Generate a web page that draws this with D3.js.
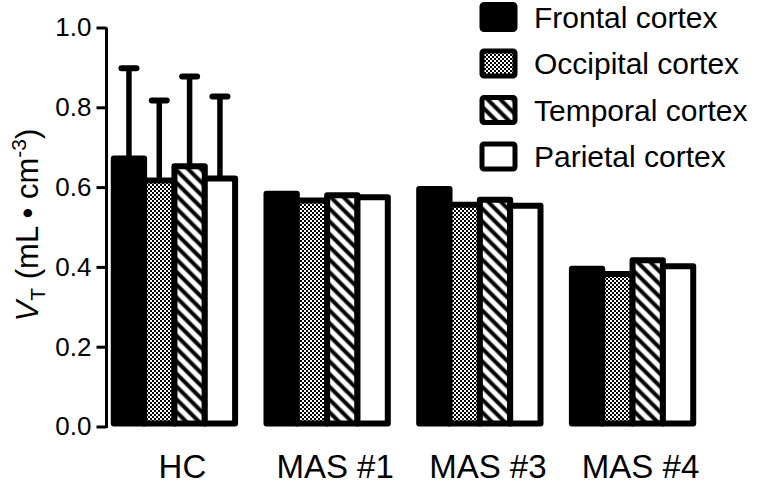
<!DOCTYPE html>
<html><head><meta charset="utf-8">
<script src="https://cdn.jsdelivr.net/npm/d3@7"></script>
<style>
body{margin:0;background:#fff}
svg{display:block}
text{font-family:"Liberation Sans",Arial,Helvetica,sans-serif;fill:#000}
</style>
</head><body>
<svg id="c" width="757" height="485"></svg>
<script>
// ---- data ----
const groups = ["HC", "MAS #1", "MAS #3", "MAS #4"];
const regions = ["Frontal cortex", "Occipital cortex", "Temporal cortex", "Parietal cortex"];
const frontal   = [0.679, 0.591, 0.603, 0.403];
const occipital = [0.624, 0.574, 0.563, 0.390];
const temporal  = [0.660, 0.587, 0.576, 0.424];
const parietal  = [0.629, 0.582, 0.561, 0.409];
const hcErrors  = [0.219, 0.193, 0.217, 0.198]; // SD, HC group only
const yTicks = [0.0, 0.2, 0.4, 0.6, 0.8, 1.0];

const seriesValues = [frontal, occipital, temporal, parietal];
const fills = ["#000", "url(#checker)", "url(#stripes)", "#fff"];

const svg = d3.select("#c");
const defs = svg.append("defs");

// checkerboard pattern
const pc = defs.append("pattern").attr("id", "checker").attr("patternUnits", "userSpaceOnUse")
  .attr("width", 4).attr("height", 4);
pc.append("rect").attr("width", 4).attr("height", 4).attr("fill", "#fff");
pc.append("rect").attr("width", 2).attr("height", 2).attr("fill", "#000");
pc.append("rect").attr("x", 2).attr("y", 2).attr("width", 2).attr("height", 2).attr("fill", "#000");

// diagonal stripes pattern
const ps = defs.append("pattern").attr("id", "stripes").attr("patternUnits", "userSpaceOnUse")
  .attr("width", 9).attr("height", 9).attr("patternTransform", "rotate(-45)");
ps.append("rect").attr("width", 9).attr("height", 9).attr("fill", "#fff");
ps.append("line").attr("x1", 4.5).attr("x2", 4.5).attr("y1", 0).attr("y2", 9)
  .attr("stroke", "#000").attr("stroke-width", 4);

// ---- scales ----
const y = d3.scaleLinear().domain([0, 1]).range([426.5, 27.5]);
const x0 = d3.scaleBand().domain(groups).range([106, 701]).paddingInner(0.2056).paddingOuter(0.051);
const x1 = d3.scaleBand().domain(regions).range([0, x0.bandwidth()]).padding(0);

const SW = 6; // bar stroke

// ---- error bars (HC) ----
const eg = svg.append("g");
regions.forEach((r, i) => {
  const g = groups[0];
  const v = seriesValues[i][0], e = hcErrors[i];
  const cx = x0(g) + x1(r) + x1.bandwidth() / 2;
  eg.append("line").attr("x1", cx).attr("x2", cx).attr("y1", y(v) + 3).attr("y2", y(v + e))
    .attr("stroke", "#000").attr("stroke-width", 5.5);
  eg.append("line").attr("x1", cx - 7.5).attr("x2", cx + 7.5).attr("y1", y(v + e)).attr("y2", y(v + e))
    .attr("stroke", "#000").attr("stroke-width", 6).attr("stroke-linecap", "round");
});

// ---- bars ----
const bg = svg.append("g");
groups.forEach((g, gi) => {
  regions.forEach((r, i) => {
    const v = seriesValues[i][gi];
    bg.append("rect")
      .attr("x", x0(g) + x1(r))
      .attr("width", x1.bandwidth())
      .attr("y", y(v) + SW / 2)
      .attr("height", (y(0) - SW / 2) - (y(v) + SW / 2))
      .attr("fill", fills[i])
      .attr("stroke", "#000")
      .attr("stroke-width", SW)
      .attr("stroke-linejoin", "round");
  });
});

// ---- y axis ----
const yAxis = d3.axisLeft(y).tickValues(yTicks).tickFormat(d3.format(".1f")).tickSize(10).tickPadding(5);
const ya = svg.append("g").attr("transform", "translate(106.5,0)").call(yAxis);
ya.select(".domain").attr("d", `M0,${y(1)}V${y(0) + 1.5}`).attr("stroke", "#000").attr("stroke-width", 3);
ya.selectAll(".tick line").attr("stroke", "#000").attr("stroke-width", 3);
ya.selectAll(".tick text").attr("font-size", 26).attr("font-family", '"Liberation Sans",Arial,sans-serif').attr("fill", "#000");

// ---- x labels ----
svg.append("g").selectAll("text").data(groups).join("text")
  .attr("x", d => x0(d) + x0.bandwidth() / 2 + 8)
  .attr("y", 478)
  .attr("text-anchor", "middle")
  .attr("font-size", 33)
  .text(d => d);

// ---- y label ----
const yl = svg.append("text")
  .attr("transform", "translate(38,225) rotate(-90)")
  .attr("text-anchor", "middle")
  .attr("font-size", 31);
yl.append("tspan").attr("font-style", "italic").text("V");
yl.append("tspan").attr("font-size", 21).attr("dy", 7).text("T");
yl.append("tspan").attr("dy", -7).text(" (mL \u2022 cm");
yl.append("tspan").attr("font-size", 21).attr("dy", -12).text("-3");
yl.append("tspan").attr("dy", 12).text(")");

// ---- legend ----
const lg = svg.append("g");
regions.forEach((r, i) => {
  const cy = 17 + i * 46.5;
  lg.append("rect").attr("x", 482).attr("y", cy - 12.5).attr("width", 33).attr("height", 25)
    .attr("rx", 2).attr("fill", fills[i]).attr("stroke", "#000").attr("stroke-width", 5)
    .attr("stroke-linejoin", "round");
  lg.append("text").attr("x", 534).attr("y", cy).attr("dy", "0.35em")
    .attr("font-size", 30).text(r);
});
</script>
</body></html>
